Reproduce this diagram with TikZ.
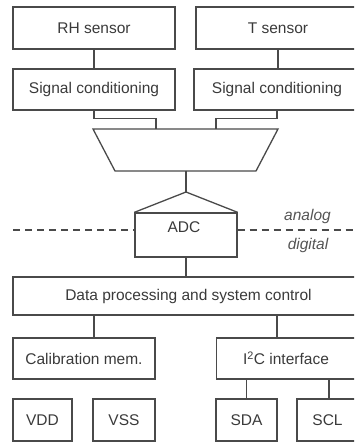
\documentclass[tikz,border=0pt]{standalone}
\usepackage{fontspec}
\setmainfont{Liberation Sans}
\definecolor{linec}{HTML}{4A4A4A}
\definecolor{textc}{HTML}{3A3A3A}
\definecolor{italc}{HTML}{555555}
\tikzset{
  blk/.style={draw=linec, line width=1.3pt, rectangle, inner sep=0pt, text=textc,
    font=\fontsize{15.5}{18}\selectfont},
  conn/.style={draw=linec, line width=1.3pt},
  divline/.style={draw=linec, line width=1.3pt, dash pattern=on 7pt off 5pt},
  domlabel/.style={text=italc, font=\fontsize{15.5}{18}\selectfont\itshape, inner sep=0pt}
}
\begin{document}
\begin{tikzpicture}[x=1pt, y=-1pt]
\clip (0,0) rectangle (354,443);
% sensors
\node[blk, minimum width=162, minimum height=42] (rh) at (94,28) {RH sensor};
\node[blk, minimum width=164, minimum height=42] (ts) at (278,28) {T sensor};
% signal conditioning
\node[blk, minimum width=162, minimum height=41] (scl) at (94,89.5) {Signal conditioning};
\node[blk, minimum width=166, minimum height=41] (scr) at (277,89.5) {Signal conditioning};
% multiplexer
\coordinate (muxTL) at (93,129);
\coordinate (muxTR) at (278,129);
\coordinate (muxBR) at (256,171);
\coordinate (muxBL) at (115,171);
\coordinate (muxInL) at (156,129);
\coordinate (muxInR) at (216,129);
\coordinate (muxOut) at (186,171);
\draw[conn, line join=miter] (muxTL) -- (muxTR) -- (muxBR) -- (muxBL) -- cycle;
% ADC
\node[blk, minimum width=102, minimum height=44] (adc) at (186,235) {};
\coordinate (adcTop) at (186,192);
\draw[conn, line join=miter] (adc.north west) -- (adcTop) -- (adc.north east);
\node[text=textc, font=\fontsize{15.5}{18}\selectfont, inner sep=0pt] (adclab) at (184,227) {ADC};
% analog / digital divider
\coordinate (divL) at (13,230);
\coordinate (divR) at (356,230);
\draw[divline] (divL) -- (divL -| adc.west);
\draw[divline] (divR -| adc.east) -- (divR);
\node[domlabel] (analog) at (307.5,216) {analog};
\node[domlabel] (digital) at (308,245) {digital};
% data processing
\node[blk, minimum width=351, minimum height=38] (dp) at (188.5,296) {Data processing and system control};
% lower blocks
\node[blk, minimum width=142, minimum height=41] (cal) at (84,358.5) {Calibration mem.};
\node[blk, minimum width=139, minimum height=41] (i2c) at (286,358.5) {I\textsuperscript{2}C interface};
\node[blk, minimum width=59, minimum height=42] (vdd) at (42.5,420) {VDD};
\node[blk, minimum width=62, minimum height=42] (vss) at (124,420) {VSS};
\node[blk, minimum width=61, minimum height=42] (sda) at (246.5,420) {SDA};
\node[blk, minimum width=61, minimum height=42] (sclb) at (327.5,420) {SCL};
% connectors
\draw[conn] (rh.south) -- (scl.north);
\draw[conn] (ts.south) -- (ts.south |- scr.north);
\draw[conn] (scl.south) -- ++(0,8) -| (muxInL);
\draw[conn] (scr.south) -- ++(0,8) -| (muxInR);
\draw[conn] (muxOut) -- (adcTop);
\draw[conn] (adc.south) -- (adc.south |- dp.north);
\draw[conn] (dp.south -| scl.south) -- (cal.north -| scl.south);
\draw[conn] (dp.south -| scr.south) -- (i2c.north -| scr.south);
\draw[conn] (i2c.south -| sda.north) -- (sda.north);
\draw[conn] (i2c.south -| 329,0) -- (sclb.north -| 329,0);
\end{tikzpicture}
\end{document}
